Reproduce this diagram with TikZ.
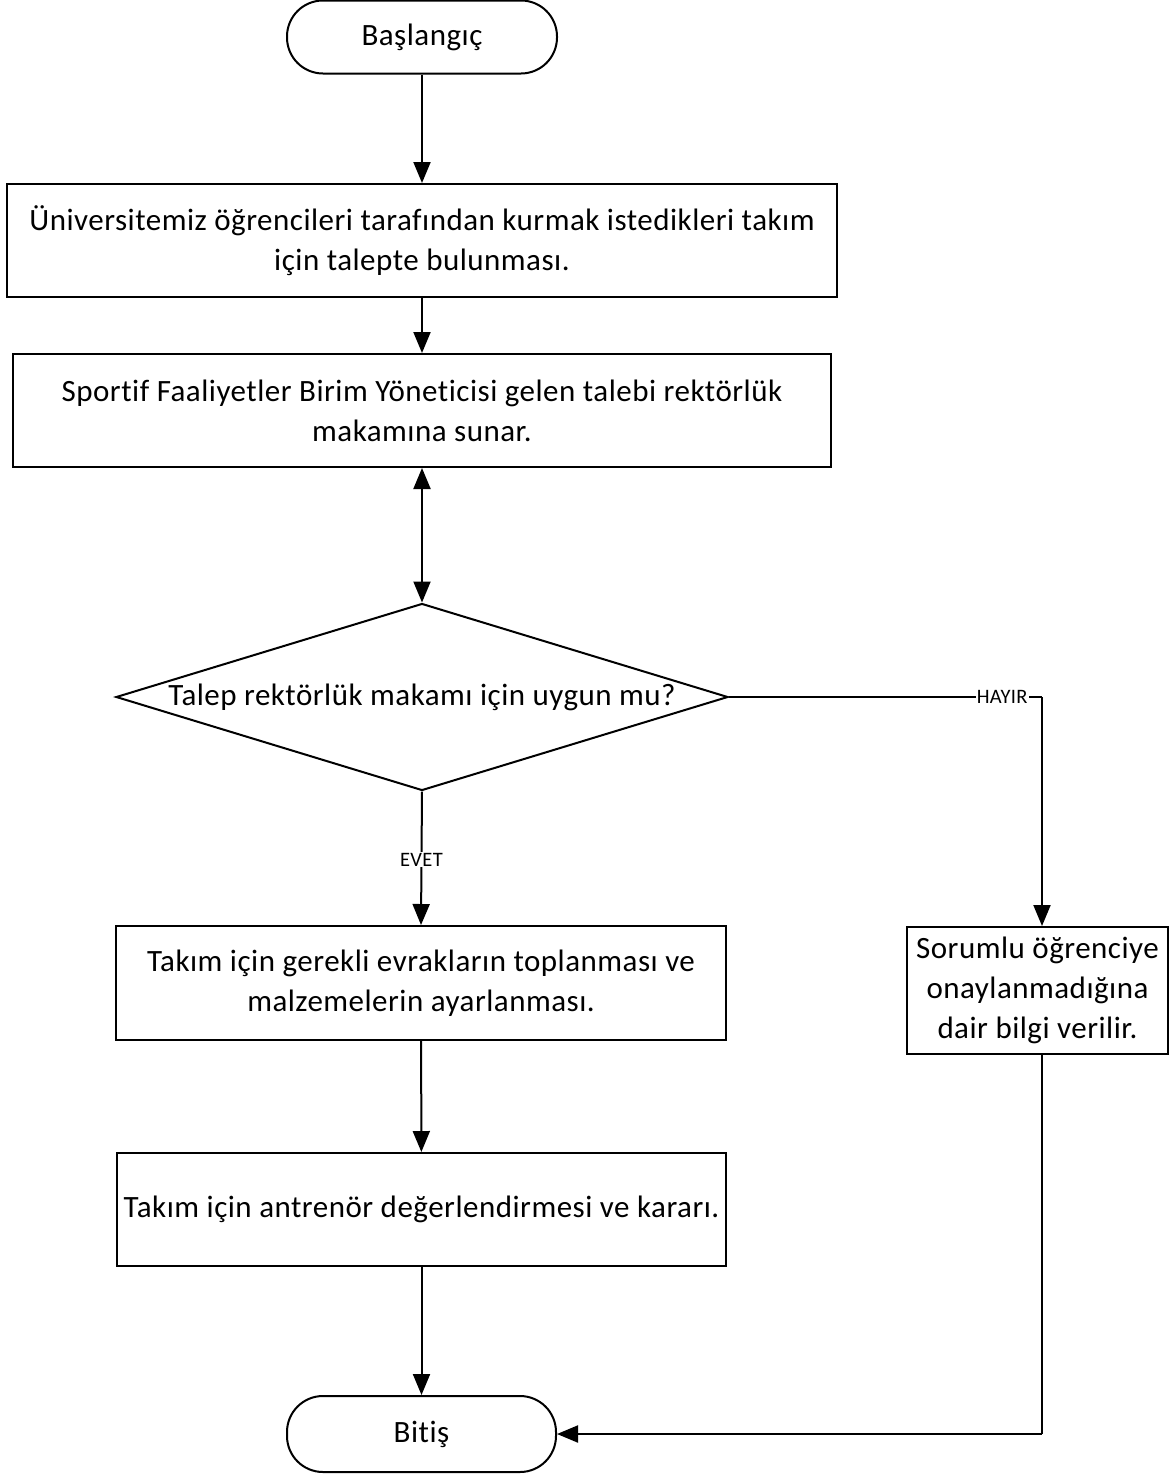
\documentclass[tikz,border=0pt]{standalone}
\usepackage{fontspec}
\setmainfont{Carlito}[Ligatures=NoCommon, LetterSpace=1.6]
\usetikzlibrary{shapes.geometric,arrows.meta}
\begin{document}
\begin{tikzpicture}[x=1pt,y=-1pt,
  every node/.style={font=\fontsize{31}{40}\selectfont, align=center, inner sep=0pt},
  proc/.style={draw, line width=2pt, rectangle},
  term/.style={draw, line width=2pt, rectangle, rounded corners=36pt},
  dec/.style={draw, line width=2pt, diamond, shape aspect=3.27},
  lbl/.style={font=\fontsize{20.5}{24}\selectfont, fill=white, inner sep=1pt},
  arr/.style={line width=2pt, -{Triangle[length=21pt,width=17pt]}},
  darr/.style={line width=2pt, {Triangle[length=21pt,width=17pt]}-{Triangle[length=21pt,width=17pt]}},
  ln/.style={line width=2pt}]
\useasboundingbox (0,0) rectangle (1172,1478);
\node[term, minimum width=270pt, minimum height=73pt] (start) at (422,37) {Başlangıç};
\node[proc, minimum width=830pt, minimum height=113pt] (b1) at (422,240.5)
  {Üniversitemiz öğrencileri tarafından kurmak istedikleri takım\\için talepte bulunması.};
\node[proc, minimum width=818pt, minimum height=113pt] (b2) at (422,410.5)
  {Sportif Faaliyetler Birim Yöneticisi gelen talebi rektörlük\\makamına sunar.};
\node[dec, minimum width=612pt, minimum height=187pt] (d) at (422,697)
  {Talep rektörlük makamı için uygun mu?};
\node[proc, minimum width=610pt, minimum height=114pt] (b3) at (421,983)
  {Takım için gerekli evrakların toplanması ve\\malzemelerin ayarlanması.};
\node[proc, minimum width=261pt, minimum height=127pt] (b4) at (1037.5,990.5)
  {Sorumlu öğrenciye\\onaylanmadığına\\dair bilgi verilir.};
\node[proc, minimum width=609pt, minimum height=113pt] (b5) at (421.5,1209.5)
  {Takım için antrenör değerlendirmesi ve kararı.};
\node[term, minimum width=269pt, minimum height=76pt] (end) at (421.5,1434) {Bitiş};
\coordinate (c1) at (1042,697);
\coordinate (c2) at (1042,1434);

\draw[arr] (start) -- (b1);
\draw[arr] (b1) -- (b2);
\draw[darr] (b2.south) -- (d.north);
\draw[arr] (d.south) -- node[lbl, pos=0.51]{EVET} (b3.north);
\draw[ln] (d.east) -- node[lbl, pos=0.873]{HAYIR} (c1);
\draw[arr] (c1) -- (c1 |- b4.north);
\draw[arr] (b3) -- (b5);
\draw[arr] (b5) -- (end);
\draw[ln] (c1 |- b4.south) -- (c2);
\draw[arr] (c2) -- (end.east);
\end{tikzpicture}
\end{document}
